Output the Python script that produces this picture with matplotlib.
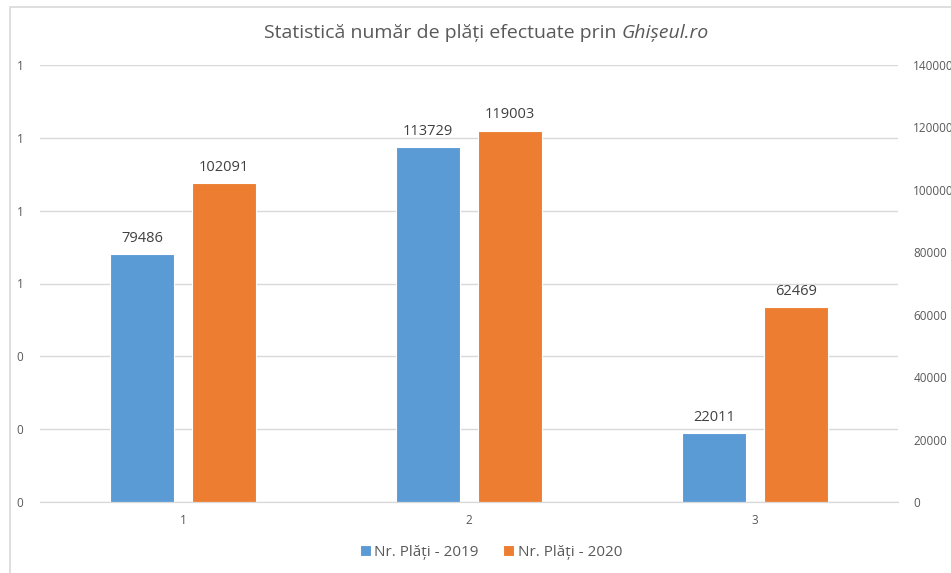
import matplotlib.pyplot as plt
import numpy as np
from matplotlib.patches import Rectangle

# Chart data
categories = ["1", "2", "3"]
plati_2019 = [79486, 113729, 22011]
plati_2020 = [102091, 119003, 62469]
series_names = ["Nr. Plăți - 2019", "Nr. Plăți - 2020"]
left_ticks = [0, 0.2, 0.4, 0.6, 0.8, 1.0, 1.2]
left_tick_labels = ["0", "0", "0", "1", "1", "1", "1"]
right_ticks = [0, 20000, 40000, 60000, 80000, 100000, 120000, 140000]
title_plain = "Statistică număr de plăți efectuate prin "
title_italic = "Ghișeul.ro"

blue = "#5B9BD5"
orange = "#ED7D31"
text_gray = "#595959"
grid_gray = "#D9D9D9"

plt.rcParams["font.family"] = ["Open Sans", "DejaVu Sans"]

fig = plt.figure(figsize=(9.51, 5.73), dpi=100)

# outer chart frame, cut off on the right and bottom like the screenshot
fig.patches.append(Rectangle((10 / 951, -0.05), 1.1, 1 - 7 / 573 + 0.05,
                             transform=fig.transFigure, fill=False,
                             edgecolor=grid_gray, linewidth=1.2, zorder=0))

ax = fig.add_axes([40 / 951, 71 / 573, 858 / 951, 437 / 573])
ax2 = ax.twinx()

x = np.arange(len(categories))
width = 0.224
offset = 0.143

b1 = ax2.bar(x - offset, plati_2019, width, color=blue, edgecolor="white",
             linewidth=0.8, label=series_names[0])
b2 = ax2.bar(x + offset, plati_2020, width, color=orange, edgecolor="white",
             linewidth=0.8, label=series_names[1])

for bars in (b1, b2):
    ax2.bar_label(bars, labels=[str(v) for v in bars.datavalues], padding=6,
                  fontsize=10.5, color="#404040")

ax.set_xlim(-0.5, len(categories) - 0.5)
ax.set_xticks(x)
ax.set_xticklabels(categories)
ax.set_ylim(0, 1.2)
ax.set_yticks(left_ticks)
ax.set_yticklabels(left_tick_labels)
ax2.set_ylim(0, 140000)
ax2.set_yticks(right_ticks)

ax.grid(axis="y", color=grid_gray, linewidth=1)
ax.set_axisbelow(True)

for a in (ax, ax2):
    for side in ("top", "left", "right"):
        a.spines[side].set_visible(False)
    a.spines["bottom"].set_color(grid_gray)
    a.tick_params(length=0, colors=text_gray, labelsize=8.5)
ax.tick_params(axis="y", pad=12)
ax.tick_params(axis="x", pad=9)
ax2.tick_params(axis="y", pad=11)

# title: plain part + italic part, centred together
title_y = 1 - 33 / 573
t1 = fig.text(0, title_y, title_plain, ha="left", va="center",
              fontsize=14, color=text_gray)
t2 = fig.text(0, title_y, title_italic, ha="left", va="center",
              fontsize=14, color=text_gray, style="italic")
renderer = fig.canvas.get_renderer()
w1 = t1.get_window_extent(renderer).width
w2 = t2.get_window_extent(renderer).width
x0 = 486 - (w1 + w2) / 2
t1.set_x(x0 / 951)
t2.set_x((x0 + w1) / 951)

fig.legend(handles=[b1, b2], loc="center", bbox_to_anchor=(491 / 951, 1 - 552 / 573),
           ncol=2, frameon=False, fontsize=11, labelcolor=text_gray,
           handlelength=0.7, handleheight=0.7, handletextpad=0.25,
           columnspacing=1.6)

fig.savefig("out.png", dpi=100)
